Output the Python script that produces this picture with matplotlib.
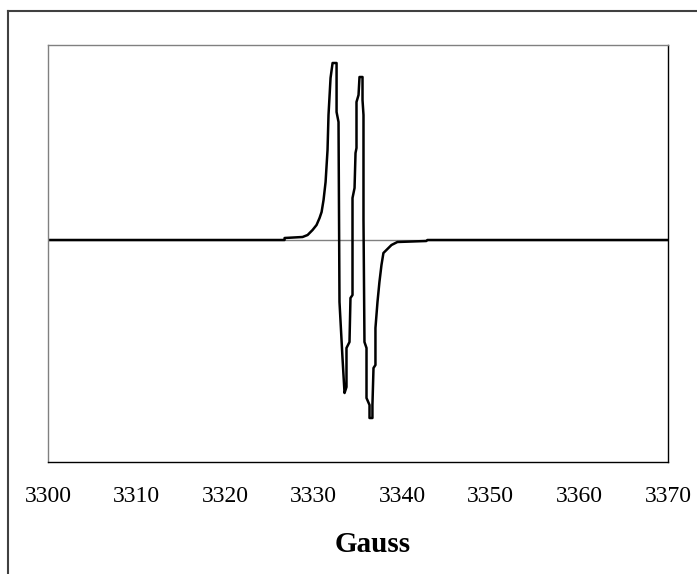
#!/usr/bin/env python3

import matplotlib
matplotlib.use("Agg")
import matplotlib.pyplot as plt
from matplotlib.lines import Line2D

# EPR first-derivative trace (field in Gauss, intensity in arbitrary units)
gauss = [3300.00, 3326.71, 3326.71, 3328.74, 3329.31, 3329.87, 3330.32, 3330.66,
         3330.89, 3331.11, 3331.34, 3331.56, 3331.67, 3331.90, 3332.13, 3332.58,
         3332.58, 3332.80, 3332.91, 3333.25, 3333.48, 3333.70, 3333.70, 3334.04,
         3334.15, 3334.38, 3334.38, 3334.38, 3334.61, 3334.72, 3334.83, 3334.83,
         3335.06, 3335.17, 3335.51, 3335.51, 3335.62, 3335.62, 3335.73, 3335.96,
         3335.96, 3336.30, 3336.30, 3336.63, 3336.63, 3336.75, 3336.97, 3336.97,
         3337.20, 3337.42, 3337.65, 3337.87, 3338.21, 3338.78, 3339.45, 3342.72,
         3342.83, 3370.00]
intensity = [0, 0, 2, 3, 5, 10, 15, 22,
             28, 40, 58, 90, 125, 162, 177, 177,
             128, 118, -62, -118, -153, -147, -108, -102,
             -58, -55, 0, 42, 52, 87, 92, 138,
             145, 163, 163, 140, 125, 20, -102, -108,
             -158, -165, -178, -178, -165, -128, -125, -88,
             -62, -42, -25, -13, -10, -5, -2, -1,
             0, 0]

xticks = [3300, 3310, 3320, 3330, 3340, 3350, 3360, 3370]

plt.rcParams['font.family'] = ['Liberation Serif', 'DejaVu Serif']

fig = plt.figure(figsize=(6.97, 5.74), dpi=100)
ax = fig.add_axes([48 / 697, 1 - 462 / 574, 620 / 697, 417 / 574])

ax.axhline(0, color='#808080', lw=1.0, zorder=1)
ax.plot(gauss, intensity, color='black', lw=1.8, zorder=2)

ax.set_xlim(3300, 3370)
ax.set_ylim(-222, 195)
ax.set_xticks(xticks)
ax.set_xticklabels([str(t) for t in xticks], fontsize=17)
ax.set_yticks([])
ax.tick_params(axis='x', length=0, pad=17)

for side in ('top', 'left'):
    ax.spines[side].set_color('#808080')
for side in ('right', 'bottom'):
    ax.spines[side].set_color('black')
for s in ax.spines.values():
    s.set_linewidth(1.0)

fig.text(373 / 697, 1 - 545 / 574, 'Gauss', fontsize=21, fontweight='bold',
         ha='center', va='center')

# chart-area border (open towards right and bottom)
fig.add_artist(Line2D([8 / 697, 8 / 697], [0, 1 - 11 / 574],
                      transform=fig.transFigure, color='#404040', lw=1.5))
fig.add_artist(Line2D([8 / 697, 1], [1 - 11 / 574, 1 - 11 / 574],
                      transform=fig.transFigure, color='#404040', lw=1.5))

fig.savefig('out.png', dpi=100)
